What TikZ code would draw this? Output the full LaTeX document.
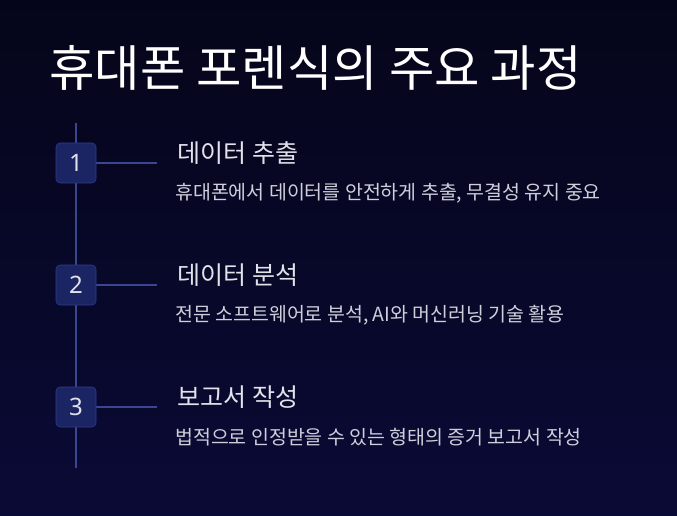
\documentclass[tikz,border=0pt]{standalone}
\usepackage{fontspec}
\newfontfamily\kr{Noto Sans CJK KR}
\newfontfamily\numf{Noto Sans}
\definecolor{bgtop}{HTML}{05051A}
\definecolor{bgbot}{HTML}{0A0A36}
\definecolor{boxfill}{HTML}{1B2563}
\definecolor{boxline}{HTML}{2C3B8C}
\definecolor{linec}{HTML}{3A4690}
\definecolor{headc}{HTML}{E2E2EA}
\definecolor{descc}{HTML}{CFCFDC}
\begin{document}
\begin{tikzpicture}[x=0.75pt,y=-0.75pt,
  numbox/.style={draw=boxline,fill=boxfill,rounded corners=3pt,minimum width=30pt,minimum height=30pt,inner sep=0pt,text=headc,font=\numf\fontsize{18}{20}\selectfont\bfseries},
  head/.style={anchor=west,inner sep=0pt,text=headc,font=\kr\fontsize{18.8}{21}\selectfont},
  desc/.style={anchor=west,inner sep=0pt,text=descc,font=\kr\fontsize{14.6}{17}\selectfont},
  conn/.style={draw=linec,line width=1pt}]
\shade[top color=bgtop,bottom color=bgbot] (0,0) rectangle (677,516);
\useasboundingbox (0,0) rectangle (677,516);
\node[anchor=west,inner sep=0pt,text=white,font=\kr\fontsize{37}{42}\selectfont] (title) at (49,68) {휴대폰 포렌식의 주요 과정};
\coordinate (ltop) at (76,123);
\coordinate (lbot) at (76,468);
\draw[conn] (ltop) -- (lbot);
\foreach \n/\y/\h/\d in {1/163/데이터 추출/{휴대폰에서 데이터를 안전하게 추출, 무결성 유지 중요},
  2/285/데이터 분석/{전문 소프트웨어로 분석, AI와 머신러닝 기술 활용},
  3/407/보고서 작성/{법적으로 인정받을 수 있는 형태의 증거 보고서 작성}}{
  \coordinate (e\n) at (157,\y);
  \draw[conn] (76,\y) -- (e\n);
  \node[numbox] (b\n) at (76,\y) {\n};
  \node[head] (h\n) at (177,\y-10) {\h};
  \node[desc] (d\n) at (175,\y+30) {\d};
}
\end{tikzpicture}
\end{document}
